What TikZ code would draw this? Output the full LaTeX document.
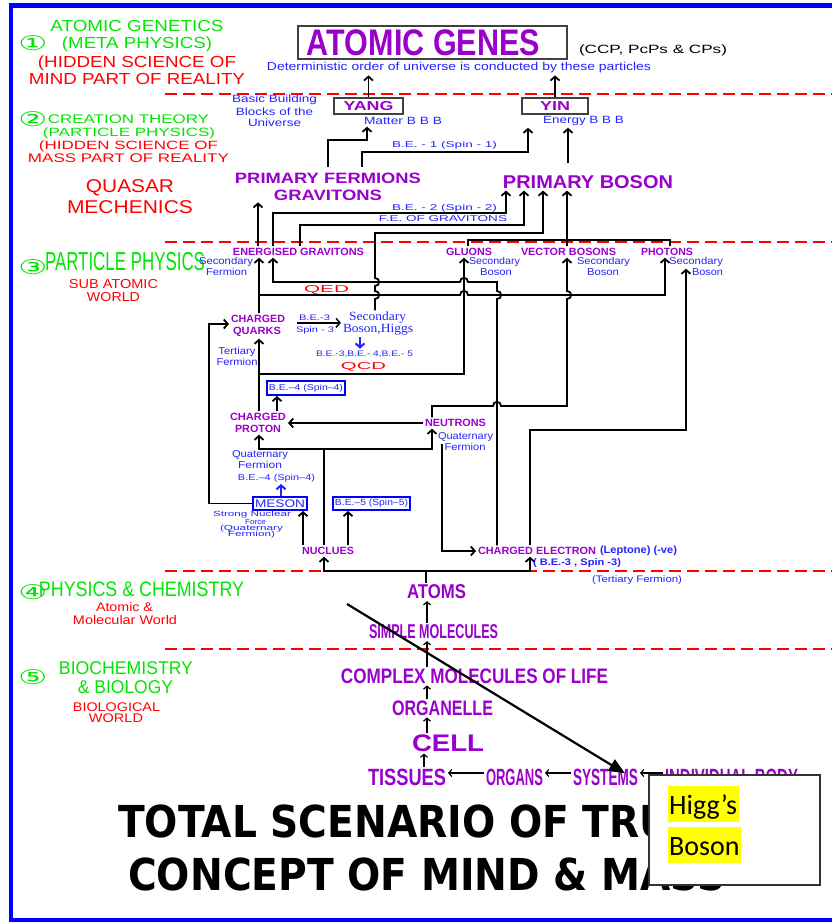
\documentclass[tikz,border=0pt]{standalone}
\usepackage{fontspec}
\usepackage{graphicx}
\setmainfont{Liberation Sans}
\newfontfamily\serifface{Liberation Serif}
\newfontfamily\titleface{DejaVu Sans}
\newfontfamily\symface{DejaVu Sans}
\newfontfamily\noteface{Carlito}
\usetikzlibrary{
    positioning,
    arrows.meta
}
\definecolor{chartPurple}{RGB}{153, 0, 204}
\definecolor{chartBlue}{RGB}{35, 35, 255}
\definecolor{chartGreen}{RGB}{0, 230, 0}
\definecolor{chartRed}{RGB}{255, 0, 0}
\definecolor{frameBlue}{RGB}{0, 0, 255}
\definecolor{markYellow}{RGB}{255, 255, 0}

% text squeezed or stretched to a given width
\newcommand{\wtext}[3]{\resizebox{#1pt}{\height}{\fontsize{#2}{#2}\selectfont #3}}
\newcommand{\circnum}[1]{\resizebox{29pt}{15pt}{\symface #1}}

\begin{document}
\begin{tikzpicture}[x=1pt, y=-1pt,
    >={Straight Barb[length=4pt, width=9pt]},
    lbl/.style={inner sep=0pt, outer sep=2pt},
    grn/.style={lbl, text=chartGreen},
    rd/.style={lbl, text=chartRed},
    blu/.style={lbl, text=chartBlue},
    pur/.style={lbl, text=chartPurple, font=\bfseries},
    geneBox/.style={draw=black!75, line width=1.5pt, inner sep=0pt, outer sep=1pt, text=chartPurple, font=\bfseries},
    spinBox/.style={draw=frameBlue, line width=1.5pt, inner sep=0pt, outer sep=1pt, text=chartBlue},
    wire/.style={line width=1.8pt},
    thinwire/.style={line width=1.2pt, -{Straight Barb[length=3pt, width=7pt]}},
    bluewire/.style={line width=2pt, chartBlue, ->},
    levelLine/.style={chartRed, line width=2pt, dash pattern=on 12pt off 6pt},
    titleTxt/.style={inner sep=0pt, anchor=west, font=\titleface\bfseries}
  ]
  \useasboundingbox (0,0) rectangle (832,922);
  \draw[frameBlue, line width=4.5pt] (10.8,5.3) rectangle (850,920.5);

  % level boundaries
  \foreach \ly in {94,242,571,649}
    \draw[levelLine] (165,\ly) -- (832,\ly);

  % left column: the five levels
  \node[grn] (circA) at (33,43) {\circnum{①}};
  \node[grn] (genetics) at (137,26) {\wtext{173}{16}{ATOMIC GENETICS}};
  \node[grn] (meta) at (137,44.5) {\wtext{150}{16}{(META PHYSICS)}};
  \node[rd] (hiddenA) at (137,63.5) {\wtext{198}{16}{(HIDDEN SCIENCE OF}};
  \node[rd] (mindpart) at (137,79) {\wtext{216}{16}{MIND PART OF REALITY}};

  \node[grn] (circB) at (33,119) {\circnum{②}};
  \node[grn] (creation) at (128.5,119) {\wtext{161}{12.5}{CREATION THEORY}};
  \node[grn] (partphys) at (129,133) {\wtext{172}{12}{(PARTICLE PHYSICS)}};
  \node[rd] (hiddenB) at (128.5,146.5) {\wtext{179}{12}{(HIDDEN SCIENCE OF}};
  \node[rd] (masspart) at (128.5,158) {\wtext{201}{12.5}{MASS PART OF REALITY}};

  \node[rd] (quasar) at (130,188) {\wtext{88}{18.5}{QUASAR}};
  \node[rd] (mechenics) at (130,207) {\wtext{126}{18.5}{MECHENICS}};

  \node[grn] (circC) at (33,267) {\circnum{③}};
  \node[grn] (partworld) at (125,262) {\wtext{160}{26}{PARTICLE PHYSICS}};
  \node[rd] (subatomic) at (113.5,284) {\wtext{89}{13}{SUB ATOMIC}};
  \node[rd] (worldA) at (113.5,297) {\wtext{53}{13}{WORLD}};

  \node[grn] (circD) at (33,592) {\circnum{④}};
  \node[grn] (physchem) at (141.5,589) {\wtext{205}{21}{PHYSICS \& CHEMISTRY}};
  \node[rd] (atomicamp) at (124.5,607) {\wtext{57}{12.5}{Atomic \&}};
  \node[rd] (molworld) at (125,620) {\wtext{104}{12.5}{Molecular World}};

  \node[grn] (circE) at (33,677) {\circnum{⑤}};
  \node[grn] (biochem) at (126,668) {\wtext{134}{18.5}{BIOCHEMISTRY}};
  \node[grn] (biology) at (125.5,687) {\wtext{95}{18.5}{\& BIOLOGY}};
  \node[rd] (biological) at (116.5,707) {\wtext{87}{12.5}{BIOLOGICAL}};
  \node[rd] (worldB) at (116,718) {\wtext{54}{12.5}{WORLD}};

  % atomic genes and the first level
  \node[geneBox, minimum width=269pt, minimum height=33pt] (genes) at (432.5,42.5) {\wtext{233}{37}{ATOMIC GENES}\kern18pt};
  \node[lbl] (ccp) at (653,50) {\wtext{148}{12}{(CCP, PcPs \& CPs)}};
  \node[blu] (determ) at (459,68) {\wtext{384}{11.5}{Deterministic order of universe is conducted by these particles}};
  \node[geneBox, minimum width=69pt, minimum height=16pt] (yang) at (368.5,106) {\wtext{50}{13}{YANG}};
  \node[geneBox, minimum width=66pt, minimum height=16pt] (yin) at (555,106) {\wtext{30}{13}{YIN}};
  \node[blu] (basicA) at (274.5,100) {\wtext{85}{10.5}{Basic Building}};
  \node[blu] (basicB) at (274.5,112) {\wtext{77}{10.5}{Blocks of the}};
  \node[blu] (basicC) at (274.5,123) {\wtext{53}{10.5}{Universe}};
  \node[blu] (matter) at (403,121) {\wtext{78}{10.5}{Matter B B B}};
  \node[blu] (energy) at (583.5,121) {\wtext{81}{10.5}{Energy B B B}};
  \node[blu] (beOne) at (444.5,145) {\wtext{105}{8.5}{B.E. - 1 (Spin - 1)}};
  \node[pur] (pf) at (328,178) {\wtext{186}{15}{PRIMARY FERMIONS}};
  \node[pur] (grav) at (328,195) {\wtext{108}{15}{GRAVITONS}};
  \node[pur] (pb) at (588,182) {\wtext{170}{18.5}{PRIMARY BOSON}};
  \node[blu] (beTwo) at (444.5,208) {\wtext{105}{8.5}{B.E. - 2 (Spin - 2)}};
  \node[blu] (feGrav) at (443,219) {\wtext{128}{8.5}{F.E. OF GRAVITONS}};

  % sub atomic particles
  \node[pur] (egrav) at (298.5,252) {\wtext{131}{10.5}{ENERGISED GRAVITONS}};
  \node[blu] (egravA) at (226,262) {\wtext{54}{10}{Secondary}};
  \node[blu] (egravB) at (226.5,272) {\wtext{41}{10}{Fermion}};
  \node[pur] (gluons) at (469,252) {\wtext{46}{10.5}{GLUONS}};
  \node[blu] (gluonsA) at (494.5,262) {\wtext{51}{10}{Secondary}};
  \node[blu] (gluonsB) at (496,272) {\wtext{32}{10}{Boson}};
  \node[pur] (vector) at (568.5,252) {\wtext{95}{10.5}{VECTOR BOSONS}};
  \node[blu] (vectorA) at (603.5,262) {\wtext{53}{10}{Secondary}};
  \node[blu] (vectorB) at (603,272) {\wtext{32}{10}{Boson}};
  \node[pur] (photons) at (667,252) {\wtext{52}{10.5}{PHOTONS}};
  \node[blu] (photonsA) at (696,262) {\wtext{54}{10}{Secondary}};
  \node[blu] (photonsB) at (707.5,272) {\wtext{31}{10}{Boson}};
  \node[rd] (qed) at (326.5,290) {\wtext{45}{10}{QED}};
  \node[rd] (qcd) at (363.5,367) {\wtext{45}{10}{QCD}};

  \node[pur] (quarksA) at (258,319) {\wtext{54}{10.5}{CHARGED}};
  \node[pur] (quarksB) at (257,332) {\wtext{48}{10.5}{QUARKS}};
  \node[blu] (tertA) at (237,352) {\wtext{37}{10}{Tertiary}};
  \node[blu] (tertB) at (237,362) {\wtext{41}{10}{Fermion}};
  \node[blu] (beThreeA) at (314.5,318) {\wtext{31}{8}{B.E.-3}};
  \node[blu] (beThreeB) at (315,330) {\wtext{38}{8}{Spin - 3}};
  \node[blu] (higgsA) at (377.5,318) {\wtext{57}{12.5}{\serifface Secondary}};
  \node[blu] (higgsB) at (378,330) {\wtext{70}{12.5}{\serifface Boson,Higgs}};
  \node[blu] (beList) at (364.5,354) {\wtext{97}{8}{B.E.-3,B.E.- 4,B.E.- 5}};
  \node[spinBox, minimum width=78pt, minimum height=14pt] (beFourBox) at (306,388) {\wtext{74}{8.5}{B.E.–4 (Spin–4)}};

  \node[pur] (protonA) at (258,417) {\wtext{56}{10.5}{CHARGED}};
  \node[pur] (protonB) at (258,429) {\wtext{46}{10.5}{PROTON}};
  \node[pur] (neutrons) at (455.5,423) {\wtext{61}{10.5}{NEUTRONS}};
  \node[blu] (neutQA) at (465.5,437) {\wtext{55}{10}{Quaternary}};
  \node[blu] (neutQB) at (465,447) {\wtext{41}{10}{Fermion}};
  \node[blu] (protQA) at (260,455) {\wtext{56}{10}{Quaternary}};
  \node[blu] (protQB) at (260,465) {\wtext{44}{10}{Fermion}};
  \node[blu] (beFourLbl) at (276.5,478) {\wtext{77}{8.5}{B.E.–4 (Spin–4)}};
  \node[spinBox, minimum width=54pt, minimum height=13pt] (meson) at (280,503.5) {\wtext{50}{11}{MESON}};
  \node[spinBox, minimum width=77pt, minimum height=13pt] (beFive) at (371.5,503.5) {\wtext{73}{9}{B.E.–5 (Spin–5)}};
  \node[blu] (strongA) at (252,515) {\wtext{78}{7.5}{Strong Nuclear}};
  \node[blu] (strongB) at (255.5,522) {\wtext{21}{7.5}{Force}};
  \node[blu] (strongC) at (251.5,528.5) {\wtext{63}{7.5}{(Quaternary}};
  \node[blu] (strongD) at (251.5,535) {\wtext{47}{7.5}{Fermion)}};
  \node[pur] (nuclues) at (328,551) {\wtext{52}{10.5}{NUCLUES}};
  \node[pur] (electron) at (537,551) {\wtext{118}{10.5}{CHARGED ELECTRON}};
  \node[blu, font=\bfseries] (lepton) at (638.5,551) {\wtext{77}{10.5}{(Leptone) (-ve)}};
  \node[blu, font=\bfseries] (spinThree) at (577,563.5) {\wtext{88}{9.5}{( B.E.-3 , Spin -3)}};
  \node[blu] (tertFerm) at (637,580) {\wtext{90}{9.5}{(Tertiary Fermion)}};

  % links up to the top particles
  \draw[wire,->] (yang.north) -- (yang.north |- determ.south);
  \draw[wire,->] (yin.north) -- (yin.north |- determ.south);
  \draw[wire,->,shorten <=4pt] (328,0 |- pf.north) |- (367,140) -- (367,0 |- matter.south);
  \draw[wire,->,shorten <=4pt] (362,0 |- pf.north) |- (528,152) -- (528,0 |- energy.south);
  \draw[wire,->,shorten <=10pt] (568,0 |- pb.north) -- (568,0 |- energy.south);
  \draw[wire,->] (258,0 |- egrav.north) -- (258,0 |- grav.south);
  \draw[wire,->] (273,0 |- egrav.north) |- (506,213) -- (506,0 |- pb.south);
  \draw[wire,->] (300,0 |- egrav.north) |- (524,225) -- (524,0 |- pb.south);
  \draw[wire,->] (375,0 |- higgsA.north) -- (375,299) .. controls (380.5,299) and (380.5,291) .. (375,291)
    -- (375,286) .. controls (380.5,286) and (380.5,278) .. (375,278) |- (543,233) -- (543,0 |- pb.south);
  \draw[wire,->] (567,0 |- vector.north) -- (567,0 |- pb.south);
  \draw[wire] (468,0 |- gluons.north) |- (670,240) -- (670,0 |- photons.north);

  % links inside the particle level
  \coordinate (qedJoin) at (259,295);
  \coordinate (qcdJoin) at (259,374);
  \coordinate (nucJoin) at (324,449);
  \draw[wire,->] (259,0 |- quarksA.north) -- (259,0 |- egrav.south);
  \draw[wire,->] (qedJoin) -- (460,295) .. controls (460,289.5) and (468,289.5) .. (468,295) -| (665,0 |- photons.south);
  \draw[wire,->] (497,0 |- electron.north) -- (497,299) .. controls (502.5,299) and (502.5,291) .. (497,291)
    -- (497,282) -- (468,282) .. controls (468,276.5) and (460,276.5) .. (460,282) -| (273,0 |- egrav.south);
  \draw[wire,->] (259,0 |- protonA.north) -- (259,0 |- quarksB.south);
  \draw[wire,->] (qcdJoin) -| (464,0 |- gluons.south);
  \draw[line width=1.5pt,->] (beThreeA.south west) -- (higgsB.west |- beThreeA.south);
  \draw[bluewire] (360,0 |- higgsB.south) -- (360,0 |- beList.north);
  \draw[wire,->] (277,0 |- protonA.north) -- (277,0 |- beFourBox.south);
  \draw[wire,->] (neutrons.west) -- (protonA.east |- neutrons.west);
  \draw[wire,->] (432,0 |- neutrons.north) |- (493,406) .. controls (493,400.5) and (501,400.5) .. (501,406)
    -- (567,406) -- (567,299) .. controls (572.5,299) and (572.5,291) .. (567,291) -- (567,0 |- vector.south);
  \draw[wire,->] (442,0 |- neutQA.south) |- (electron.west);
  \draw[wire,<->] (259,0 |- protonB.south) |- (432,449) -- (432,0 |- neutrons.south);
  \draw[wire] (324,0 |- nuclues.north) -- (nucJoin);
  \draw[wire,->] (meson.west) -| (209,324) -- (quarksA.west |- 0,324);
  \draw[bluewire] (281,0 |- meson.north) -- (281,0 |- beFourLbl.south);
  \draw[wire,->] (303,0 |- nuclues.north) -- (303,0 |- meson.south);
  \draw[wire,->] (348,0 |- nuclues.north) -- (348,0 |- beFive.south);
  \draw[wire,->] (530,0 |- electron.north) |- (686,430) -- (686,0 |- photonsA.south);

  % atoms up to the biological world
  \node[pur] (atoms) at (436.5,592) {\wtext{59}{20}{ATOMS}};
  \node[pur] (simple) at (433.5,632) {\wtext{129}{20}{SIMPLE MOLECULES}};
  \node[pur] (complex) at (474.5,676) {\wtext{267}{21}{COMPLEX MOLECULES OF LIFE}};
  \node[pur] (organelle) at (442.5,708) {\wtext{101}{21}{ORGANELLE}};
  \node[pur] (cell) at (448,743) {\wtext{72}{24}{CELL}};
  \node[pur] (tissues) at (407,777) {\wtext{78}{23.5}{TISSUES}};
  \node[pur] (organs) at (514.5,777) {\wtext{57}{23.5}{ORGANS}};
  \node[pur] (systems) at (605.5,777) {\wtext{65}{23.5}{SYSTEMS}};
  \node[pur] (body) at (731.5,777) {\wtext{133}{23.5}{INDIVIDUAL BODY}};

  \draw[wire] (426,0 |- atoms.north) -- (426,571);
  \draw[wire,<->] (324,0 |- nuclues.south) |- (530,571) -- (530,0 |- electron.south);
  \draw[thinwire] (427,0 |- simple.north) -- (427,0 |- atoms.south);
  \draw[thinwire] (427,0 |- complex.north) -- (427,0 |- simple.south);
  \draw[thinwire] (427,0 |- organelle.north) -- (427,0 |- complex.south);
  \draw[thinwire] (427,0 |- cell.north) -- (427,0 |- organelle.south);
  \draw[thinwire] (424,0 |- tissues.north) -- (424,0 |- cell.south);
  \draw[thinwire] ([yshift=4pt]organs.west) -- ([yshift=4pt]tissues.east);
  \draw[thinwire] ([yshift=4pt]systems.west) -- ([yshift=4pt]organs.east);
  \draw[thinwire] ([yshift=4pt]body.west) -- ([yshift=4pt]systems.east);

  \coordinate (diagStart) at (347,604);
  \draw[line width=2.2pt, -{Triangle[length=16pt, width=13pt]}] (diagStart) -- ([xshift=19.5pt, yshift=-6.6pt]systems.north);

  % title and the note on top of it
  \node[titleTxt] (titleA) at (118,821) {\scalebox{0.89}[1]{\fontsize{44}{44}\selectfont TOTAL SCENARIO OF TRUE}};
  \node[titleTxt] (titleB) at (128,874) {\scalebox{0.89}[1]{\fontsize{44}{44}\selectfont CONCEPT OF MIND \& MASS}};
  \node[draw=black!80, line width=1.2pt, fill=white, minimum width=171pt, minimum height=110pt, inner sep=0pt] (note) at (734.5,830) {};
  \node[fill=markYellow, inner xsep=1.5pt, inner ysep=0pt, text height=28pt, text depth=8pt, anchor=base west,
        font=\noteface\fontsize{28}{28}\selectfont] (noteA) at (667.5,814) {Higg’s};
  \node[fill=markYellow, inner xsep=1.5pt, inner ysep=0pt, text height=28pt, text depth=8pt, anchor=base west,
        font=\noteface\fontsize{28}{28}\selectfont] (noteB) at (667.5,855) {Boson};
\end{tikzpicture}
\end{document}
